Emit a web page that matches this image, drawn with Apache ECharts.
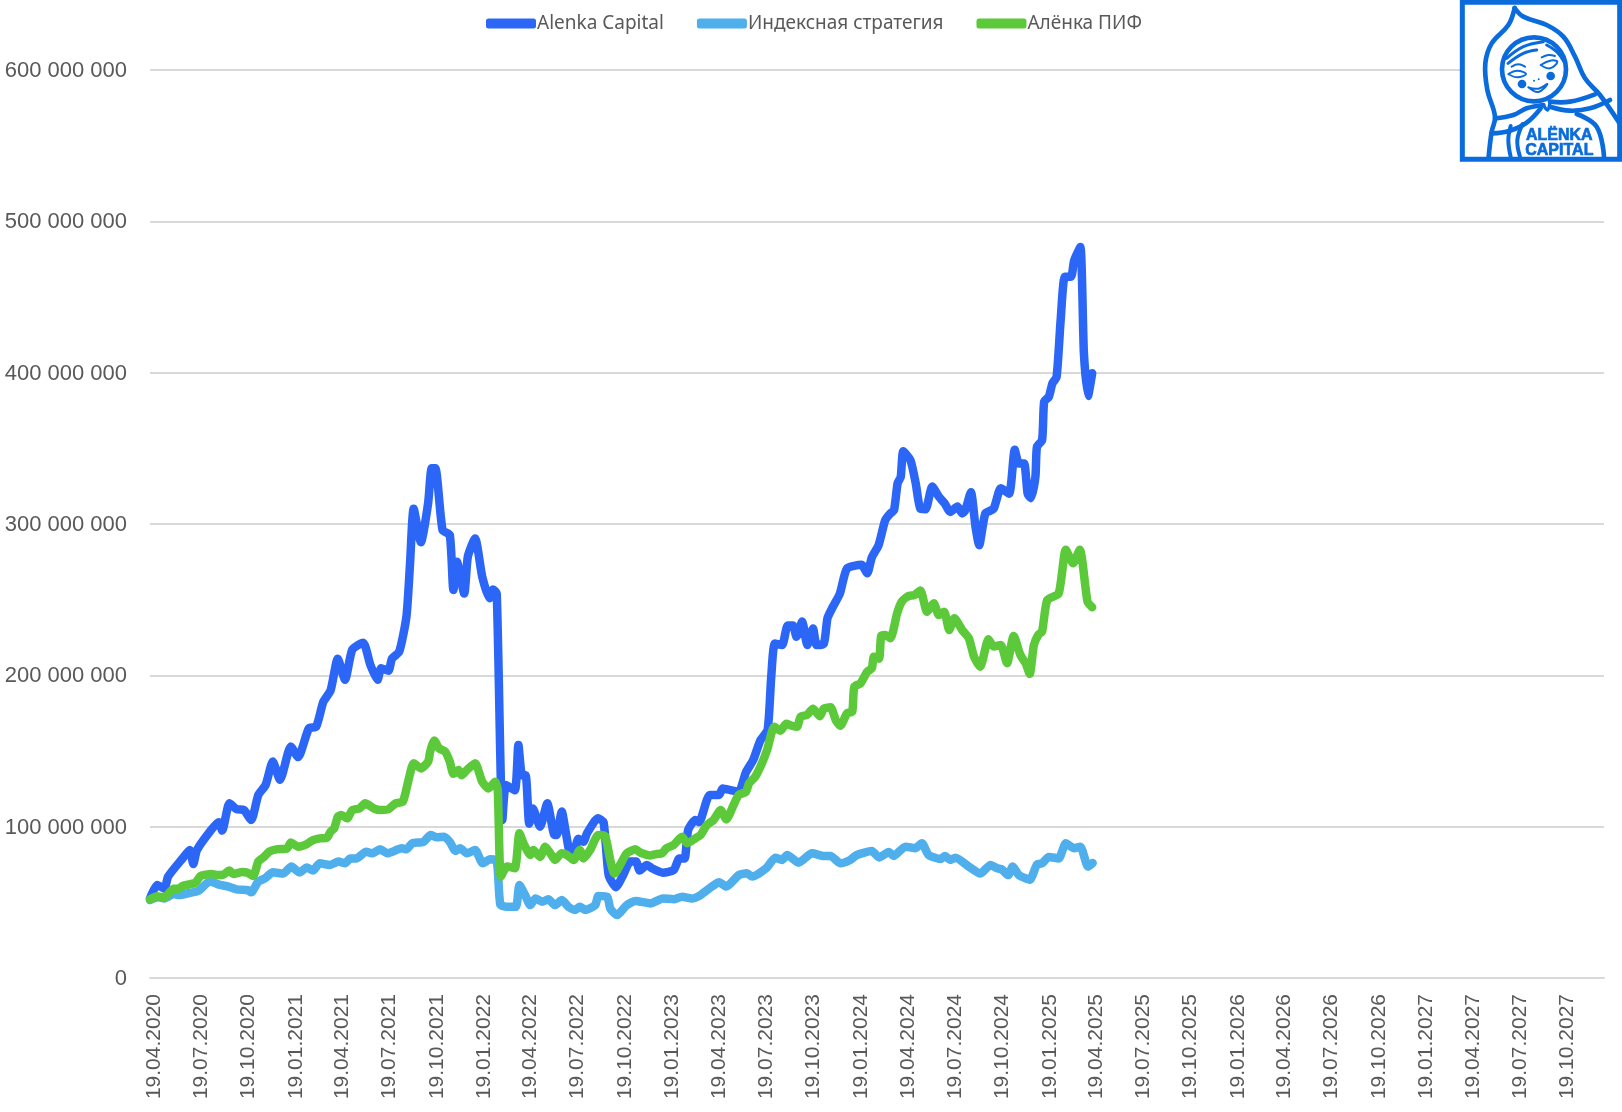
<!DOCTYPE html>
<html lang="ru">

<head>
  <meta charset="UTF-8">
  <title>Alenka Capital</title>
  <script src="https://cdn.jsdelivr.net/npm/echarts@6/dist/echarts.min.js"></script>
  <style>
    html, body { margin: 0; padding: 0; background: #fff; }
    #chart { width: 1622px; height: 1112px; }
  </style>
</head>

<body>
<div id="chart"></div>
<script>
  const startDate = [2020, 3, 19];
  const tickDates = ['19.04.2020', '19.07.2020', '19.10.2020', '19.01.2021', '19.04.2021', '19.07.2021', '19.10.2021', '19.01.2022',
    '19.04.2022', '19.07.2022', '19.10.2022', '19.01.2023', '19.04.2023', '19.07.2023', '19.10.2023', '19.01.2024',
    '19.04.2024', '19.07.2024', '19.10.2024', '19.01.2025', '19.04.2025', '19.07.2025', '19.10.2025', '19.01.2026',
    '19.04.2026', '19.07.2026', '19.10.2026', '19.01.2027', '19.04.2027', '19.07.2027', '19.10.2027'];
  const seriesNames = ['Alenka Capital', 'Индексная стратегия', 'Алёнка ПИФ'];

  // weeks since 19.04.2020, values in millions
  const alenkaWeeks = [0, 2, 4, 5, 9, 11, 12, 13, 17, 19, 20, 22, 24, 26, 28, 30, 32, 34, 36, 39, 41, 44, 46, 48, 50, 52, 54, 56, 59, 61, 63, 64, 66, 67, 69, 71, 72, 73, 75, 77, 78, 79, 81, 83, 84, 85, 87, 88, 90, 92, 94, 95, 96, 97.5, 98.5, 101, 102, 103, 104, 105, 106, 108, 110, 112, 112.5, 114, 115, 116, 117, 118.5, 120, 121, 124, 125.5, 127, 129, 131, 133, 134.5, 135.5, 137.5, 139, 142, 145, 146.5, 148, 149, 151, 152, 155, 157.5, 158.5, 161, 163, 165, 167, 169, 171, 172, 173, 175, 176.5, 178, 179, 180.5, 182, 183.5, 184.5, 186.5, 187.5, 189, 191, 193, 197, 198.5, 199.9, 201.7, 203.5, 205, 206, 207, 207.8, 208.5, 210.5, 212, 213.3, 214.7, 216.5, 218.4, 220, 221.6, 223.5, 224.8, 225.7, 227.3, 228.5, 229.6, 231.3, 233.6, 235.5, 237.8, 239.4, 240.5, 242, 243, 243.8, 245.2, 245.6, 247, 247.5, 248.9, 249.8, 251, 252.1, 253.3, 255, 255.8, 257.6, 258.6, 259.7, 260.8];
  const alenkaValues = [52.6, 61.5, 59, 67, 79, 84.6, 75.3, 84.6, 98, 103, 97.4, 115.4, 111.5, 111, 104.4, 121, 127.5, 143, 131, 153, 146, 165, 166, 182.6, 190, 211, 197, 217, 221.6, 207, 197, 204.6, 203, 211, 215.6, 238.8, 274, 310, 288, 313.7, 336.8, 336.8, 296, 292.7, 256.4, 275, 254, 278.4, 290.5, 265, 251, 256.8, 254, 104.4, 127.5, 124, 154, 134, 134, 102, 112, 100, 115.4, 94.5, 94.5, 110, 98, 84.6, 79, 92, 90, 95.6, 105.5, 103, 68, 60, 68, 77, 77, 71, 74.7, 72.5, 69.6, 71.4, 79, 79, 97.8, 104.4, 103, 121, 121, 125.3, 124, 123, 136, 144, 157, 164, 199, 221, 220, 233, 233, 225.5, 235.5, 220, 231, 220, 221, 237.7, 245, 254, 270.7, 273, 267.4, 278, 286, 302.6, 307, 309, 327, 331, 348, 342, 327, 310, 309.7, 324.7, 318, 313.7, 308, 311.5, 307, 309, 321, 298, 286, 307, 310, 323.6, 320, 349, 340, 340, 320, 317, 331, 351, 355.5, 381, 384, 393, 397, 435, 463.4, 463.4, 474, 483, 412.8, 384.6, 399.6];

  const indexWeeks = [0, 2.3, 4, 6.5, 8, 10.6, 13.4, 16.6, 19.4, 21.7, 24, 27.2, 28, 30, 31.9, 34, 36.9, 39.2, 41.4, 43.4, 45.2, 47, 49.9, 52.2, 54, 55.4, 57.2, 59.8, 61.4, 63.7, 65.7, 69.7, 71, 72.5, 75.7, 77.7, 79.4, 81.4, 83, 84.5, 85.9, 87.7, 90, 92.2, 94.2, 96, 97, 98.8, 101.3, 102.3, 103.9, 105.3, 106.7, 108.5, 110.3, 112.2, 114, 115.9, 117.7, 119, 120.5, 123.3, 124.2, 126.5, 127.4, 129.3, 132, 134.4, 138.5, 142, 145, 147.3, 150, 152.4, 155.6, 157.6, 159.5, 163, 165.3, 166.7, 170.5, 173.1, 175, 176.4, 179.6, 183.3, 186.5, 188.4, 191.1, 193.9, 195.7, 199.9, 201.8, 204.5, 205.9, 209.2, 211.9, 213.7, 215.6, 218.8, 220.2, 221.6, 223, 226.7, 229.9, 232.7, 234.5, 235.9, 237.5, 238.9, 240.5, 243.5, 245.6, 247, 248.8, 251.6, 253.5, 255.8, 257.6, 259.7, 261];
  const indexValues = [51.5, 53.3, 52.6, 55.5, 54.8, 56, 57.7, 63.7, 61.5, 60.4, 58.6, 58, 56.6, 63.7, 65.9, 69.8, 69, 73.6, 69.8, 73, 71, 75.8, 74.7, 76.9, 75.8, 79, 79, 83.5, 82.4, 85, 82.4, 85.7, 85, 89, 90, 94.5, 93, 93.4, 90, 84, 85.7, 82.4, 84.6, 75.8, 78.4, 77.5, 48.5, 47, 47, 61.5, 54.8, 48.2, 52.6, 50.4, 52, 48.2, 51.5, 47, 45, 47, 45, 48.2, 54.2, 53.7, 46, 41.6, 48.2, 50.9, 49.3, 52.6, 52, 53.7, 52.5, 54.8, 60.4, 63.2, 60.4, 68, 69.2, 67, 72.5, 79.5, 78, 81.3, 76.2, 82.4, 80.6, 80.6, 75.8, 78, 81.3, 83.9, 79.7, 83.3, 80.6, 86.8, 85.7, 89, 81.3, 78.6, 80.6, 78, 79.5, 73.6, 69, 74.7, 72.5, 71.8, 68, 73.6, 68, 65, 75, 75.8, 80, 79, 89, 85.7, 86.8, 73.6, 76];

  const fundWeeks = [0, 2, 4, 6.5, 8, 9, 12.5, 14, 17, 19, 20, 22, 23, 25.5, 27, 28.5, 30, 31.5, 33, 35, 38, 39, 41, 43.4, 45, 47, 49, 50, 51, 52, 53, 54.5, 56, 58, 59.5, 62, 64, 66, 68, 70, 71.5, 73, 75, 77, 77.6, 78.7, 80, 81.7, 83, 84, 85.4, 86.3, 87.7, 90, 92, 93.7, 95.5, 96.3, 97.1, 98.8, 101, 102.3, 103.4, 105.3, 106.2, 108, 109.4, 110.8, 112.2, 114, 115.4, 117.3, 119, 120, 121.9, 124.2, 126, 127.4, 128.5, 132, 134.4, 135.8, 138.5, 140.4, 141.7, 143, 145, 147.3, 148.7, 151, 152.4, 154.2, 156, 158, 159.6, 161.6, 163, 165, 165.8, 167.6, 169.4, 170.8, 172.9, 174.5, 176.2, 177.7, 179.1, 180.2, 181.9, 183.5, 185.4, 186.5, 188.4, 189.8, 191.1, 193, 194.4, 195, 196.7, 198.5, 199.9, 200.4, 201.8, 202.4, 203.6, 205, 206.8, 208.2, 210, 211.5, 213.3, 215.2, 217, 218.4, 219.8, 221.3, 222.7, 224.9, 226.7, 228.1, 229.9, 232.2, 233.6, 235.5, 237.3, 239.2, 241, 242.4, 243.5, 244.7, 246, 247, 248.4, 251.6, 253.5, 255.6, 257.4, 259.5, 260.8];
  const fundValues = [52, 54, 53.3, 59, 59, 60.8, 63, 67.4, 68.7, 68, 68, 71, 68.7, 70, 69.6, 67.4, 77, 80, 83.5, 85, 85.7, 89.6, 86.8, 88.5, 91, 92.3, 92.7, 96.7, 98.9, 106.6, 107.7, 105.5, 111, 112, 115.4, 112, 111, 111.5, 115.4, 116.5, 130.8, 141.9, 138.5, 143, 149.6, 157, 151.8, 149.6, 143, 135, 137.4, 134, 137.4, 141.9, 129.7, 125.3, 129.7, 124, 67, 73.6, 72.5, 95.6, 89, 81.3, 84.6, 80, 86.8, 82.4, 78, 82.4, 81.3, 78, 84.6, 79, 84.6, 94.5, 93.8, 78, 69, 82.4, 85, 82.8, 81, 82, 82.4, 85.7, 88, 93.4, 89, 92.3, 94.5, 101, 104.4, 111, 104.8, 114.3, 121, 123, 128.6, 133, 141.9, 150.7, 166, 163.4, 168, 166.7, 166, 172.7, 173.8, 178, 173, 178, 178.9, 170.5, 166.7, 175, 176, 192.5, 194.7, 202.4, 204.6, 212.3, 211, 226, 226.6, 224.5, 241, 248.7, 252.4, 253, 256, 242, 247.6, 239.9, 242, 230, 237.7, 230, 224.5, 212.3, 205.7, 223.8, 219, 220, 208, 226, 213.4, 208, 201, 220, 227, 229, 249.8, 254, 283, 274, 283, 248.7, 245];

  const colors = ['#2c66f6', '#4faeec', '#5cc93b'];
  const logoColor = '#0a6bdc';
  const textColor = '#595959';
  const gridColor = '#d9d9d9';

  function weekToTime(week) {
    return new Date(startDate[0], startDate[1], startDate[2] + Math.round(week * 7)).getTime();
  }

  function labelToTime(label) {
    const p = label.split('.');
    return new Date(+p[2], +p[1] - 1, +p[0]).getTime();
  }

  function timeToLabel(t) {
    const d = new Date(t);
    return String(d.getDate()).padStart(2, '0') + '.' + String(d.getMonth() + 1).padStart(2, '0') + '.' + d.getFullYear();
  }

  function makeSeries(index, weeks, values) {
    return {
      name: seriesNames[index],
      type: 'line',
      showSymbol: false,
      smooth: 0.2,
      clip: false,
      lineStyle: {width: 8.5, color: colors[index], cap: 'round', join: 'round'},
      itemStyle: {color: colors[index]},
      data: weeks.map((w, i) => [weekToTime(w), values[i] * 1000000])
    };
  }

  // logo is drawn in its own coordinates, 3x the final size
  function logoLine(points, width) {
    return {
      type: 'polyline',
      shape: {points: points, smooth: 0.4},
      style: {fill: 'none', stroke: logoColor, lineWidth: width || 14, lineCap: 'round', lineJoin: 'round'}
    };
  }

  function logoDot(cx, cy, r) {
    return {type: 'circle', shape: {cx: cx, cy: cy, r: r}, style: {fill: logoColor}};
  }

  function logoText(text, y) {
    return {
      type: 'text',
      style: {
        x: 538, y: y, text: text, align: 'center', verticalAlign: 'middle',
        font: 'bold 48px "Liberation Sans"', fill: logoColor, stroke: logoColor, lineWidth: 2
      }
    };
  }

  const logoParts = [
    {type: 'rect', shape: {x: 240, y: 0, width: 486, height: 485}, style: {fill: '#fff'}},
    logoLine([[326, 470], [335, 395], [345, 350], [322, 270], [316, 190], [335, 130], [385, 75], [404, 24]]),
    logoLine([[404, 24], [430, 50], [500, 75], [550, 110], [585, 170], [615, 235], [660, 285], [720, 372]]),
    logoLine([[345, 355], [400, 345], [440, 325], [490, 315]]),
    logoLine([[335, 400], [390, 392], [440, 368], [482, 325]]),
    logoLine([[510, 305], [570, 305], [645, 283]]),
    logoLine([[510, 320], [570, 332], [630, 325], [690, 300]]),
    logoLine([[490, 315], [503, 330], [510, 305]], 10),
    logoLine([[590, 342], [650, 380], [672, 470]]),
    logoLine([[392, 378], [385, 420], [392, 470]], 12),
    logoLine([[428, 372], [412, 420], [420, 470]], 12),
    {type: 'circle', shape: {cx: 462, cy: 208, r: 96}, style: {fill: '#fff', stroke: logoColor, lineWidth: 14}},
    logoLine([[380, 175], [430, 140], [490, 125]], 9),
    logoLine([[384, 190], [430, 160], [470, 150]], 9),
    logoLine([[500, 135], [530, 155], [552, 185]], 9),
    logoLine([[385, 222], [412, 212], [438, 222], [412, 232], [385, 222]], 6),
    logoLine([[482, 195], [510, 182], [532, 185], [510, 205], [482, 195]], 6),
    logoLine([[395, 200], [415, 193], [435, 200]], 6),
    logoLine([[485, 172], [505, 165], [525, 168]], 6),
    logoDot(426, 252, 13),
    logoDot(512, 228, 13),
    logoDot(462, 242, 3),
    logoDot(476, 238, 3),
    logoLine([[445, 262], [475, 266], [502, 252], [475, 276], [445, 262]], 6),
    logoText('ALËNKA', 408),
    logoText('CAPITAL', 453),
    {type: 'rect', shape: {x: 247, y: 7, width: 472, height: 471}, style: {fill: 'none', stroke: logoColor, lineWidth: 15}}
  ];

  const logo = {
    type: 'group',
    x: 1380,
    y: 0,
    scaleX: 1 / 3,
    scaleY: 1 / 3,
    children: logoParts.map(p => Object.assign({z: 100}, p))
  };

  echarts.init(document.getElementById('chart')).setOption({
    animation: false,
    backgroundColor: '#fff',
    color: colors,
    legend: {
      left: 481,
      top: 9,
      itemWidth: 50,
      itemHeight: 10,
      itemGap: 33,
      icon: 'roundRect',
      data: seriesNames,
      textStyle: {fontFamily: '"Noto Sans"', fontSize: 19, color: textColor, padding: [0, 0, 0, -4]}
    },
    grid: {left: 150, right: 18, top: 70, bottom: 134},
    xAxis: {
      type: 'value',
      scale: true,
      min: labelToTime('19.04.2020'),
      max: labelToTime('06.01.2028'),
      axisLine: {onZero: false, lineStyle: {color: gridColor, width: 2}},
      axisTick: {show: false},
      splitLine: {show: false},
      axisLabel: {
        customValues: tickDates.map(labelToTime),
        rotate: 90,
        margin: 16,
        verticalAlign: 'top',
        lineHeight: 8,
        hideOverlap: false,
        fontFamily: '"Liberation Sans"',
        fontSize: 21,
        color: textColor,
        formatter: timeToLabel
      }
    },
    yAxis: {
      type: 'value',
      min: 0,
      max: 600000000,
      interval: 100000000,
      axisLine: {show: false},
      axisTick: {show: false},
      splitLine: {lineStyle: {color: gridColor, width: 2}},
      axisLabel: {
        margin: 23,
        verticalAlign: 'top',
        lineHeight: 2,
        fontFamily: '"Liberation Sans"',
        fontSize: 22,
        color: textColor,
        formatter: v => String(v).replace(/\B(?=(\d{3})+$)/g, ' ')
      }
    },
    graphic: [logo],
    series: [
      makeSeries(0, alenkaWeeks, alenkaValues),
      makeSeries(1, indexWeeks, indexValues),
      makeSeries(2, fundWeeks, fundValues)
    ]
  });
</script>
</body>

</html>
